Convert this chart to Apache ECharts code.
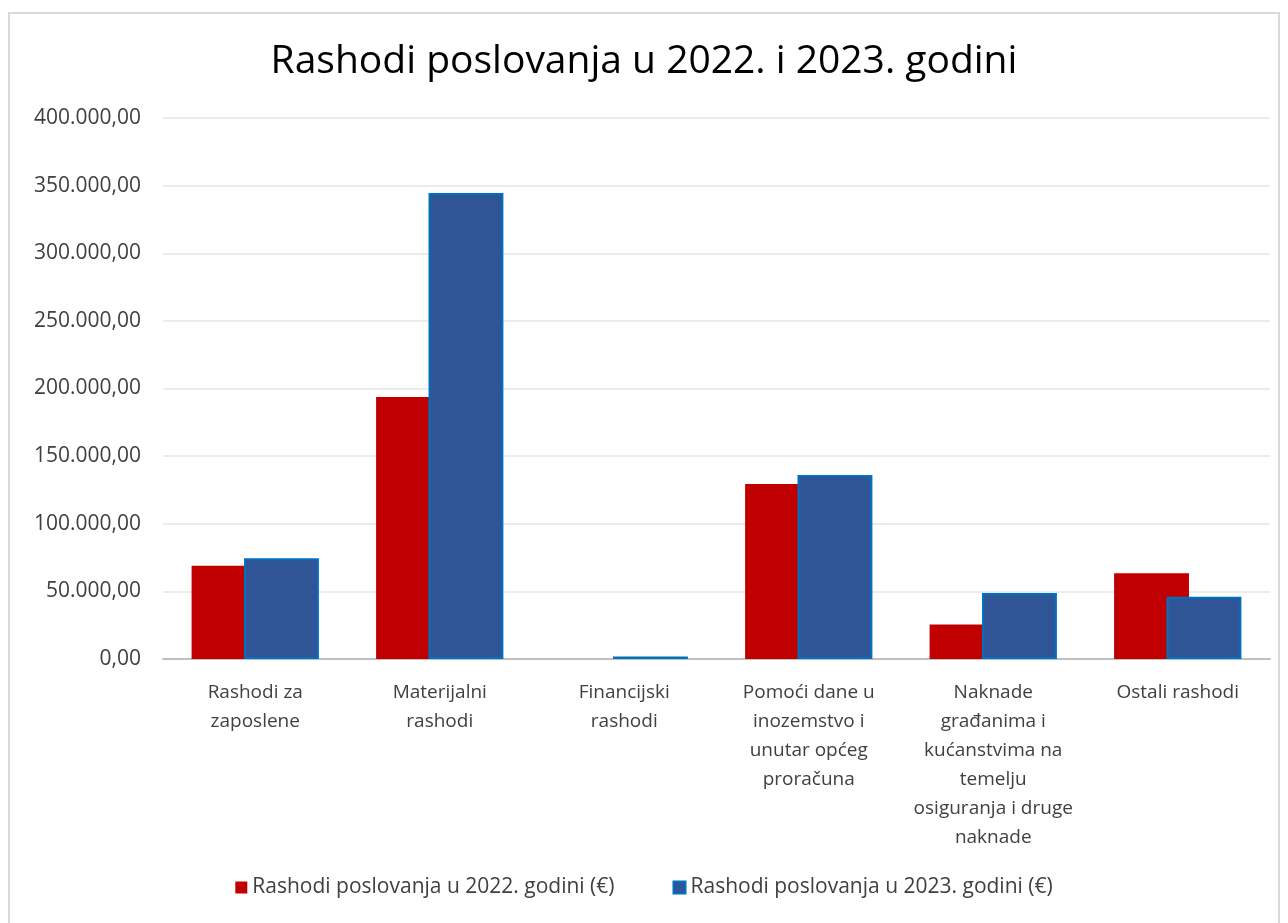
<!DOCTYPE html>
<html>
<head>
<meta charset="utf-8">
<script src="https://cdn.jsdelivr.net/npm/echarts@6/dist/echarts.min.js"></script>
<style>
  html, body { margin: 0; padding: 0; background: #fff; }
  #frame { position: absolute; left: 8px; top: 12px; width: 1272px; height: 920px; border: 2px solid #d9d9d9; box-sizing: border-box; }
  #chart { position: absolute; left: 0; top: 0; width: 1288px; height: 923px; }
</style>
</head>
<body>
<div id="frame"></div>
<div id="chart"></div>
<script>
// kategorije rashoda
const categories = [
  'Rashodi za\nzaposlene',
  'Materijalni\nrashodi',
  'Financijski\nrashodi',
  'Pomoći dane u\ninozemstvo i\nunutar općeg\nproračuna',
  'Naknade\ngrađanima i\nkućanstvima na\ntemelju\nosiguranja i druge\nnaknade',
  'Ostali rashodi'
];
const seriesNames = ['Rashodi poslovanja u 2022. godini (€)', 'Rashodi poslovanja u 2023. godini (€)'];
const values2022 = [69000, 193700, 0, 129400, 25600, 63400];
const values2023 = [74400, 344500, 1800, 136000, 48800, 46100];

function fmt(v) {
  const parts = Number(v).toFixed(2).split('.');
  return parts[0].replace(/\B(?=(\d{3})+(?!\d))/g, '.') + ',' + parts[1];
}

const chart = echarts.init(document.getElementById('chart'));
const font = 'Open Sans, Noto Sans, sans-serif';
chart.setOption({
  animation: false,
  title: {
    text: 'Rashodi poslovanja u 2022. i 2023. godini',
    left: 'center',
    top: 37,
    textStyle: { fontFamily: font, fontSize: 39, fontWeight: 'normal', color: '#000' }
  },
  legend: {
    bottom: 20,
    left: 'center',
    itemGap: 58,
    itemWidth: 12,
    itemHeight: 12,
    icon: 'rect',
    textStyle: { fontFamily: font, fontSize: 21, color: '#404040' },
    data: seriesNames
  },
  grid: { left: 163, right: 18, top: 118, bottom: 264 },
  xAxis: {
    type: 'category',
    data: categories,
    axisLine: { lineStyle: { color: '#bfbfbf', width: 2 } },
    axisTick: { show: false },
    axisLabel: {
      interval: 0,
      margin: 19,
      fontFamily: font,
      fontSize: 19,
      color: '#404040',
      lineHeight: 29,
      align: 'center'
    }
  },
  yAxis: {
    type: 'value',
    min: 0,
    max: 400000,
    interval: 50000,
    axisLine: { show: false },
    axisTick: { show: false },
    splitLine: { lineStyle: { color: '#ececec', width: 2 } },
    axisLabel: {
      margin: 22,
      fontFamily: font,
      fontSize: 21,
      color: '#404040',
      formatter: fmt
    }
  },
  series: [
    {
      name: seriesNames[0],
      type: 'bar',
      data: values2022,
      barGap: '-30%',
      barCategoryGap: '31%',
      itemStyle: { color: '#c00000' }
    },
    {
      name: seriesNames[1],
      type: 'bar',
      data: values2023,
      itemStyle: { color: '#2f5597', borderColor: '#0070c0', borderWidth: 2 }
    }
  ]
});
</script>
</body>
</html>
